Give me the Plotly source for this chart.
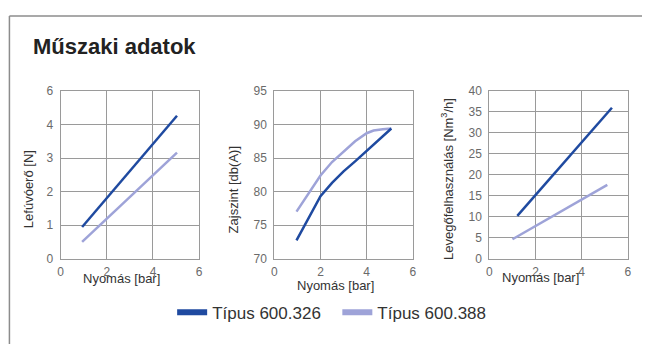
import plotly.graph_objects as go

W, H = 646, 351

# ---------------- data ----------------
series_names = ["Típus 600.326", "Típus 600.388"]
dark_color = "#1f4aa0"
light_color = "#9ea3d8"

# Chart 1: Lefúvóerő [N]
c1_x_dark = [0.93, 5.04]
c1_y_dark = [0.94, 4.26]
c1_x_light = [0.93, 5.04]
c1_y_light = [0.50, 3.16]
c1_ytickvals = [0, 1, 2, 3, 4, 5]
c1_yticktext = ["0", "1", "2", "3", "4", "6"]

# Chart 2: Zajszint [db(A)]
c2_x_dark = [0.96, 1.5, 2.0, 2.5, 3.0, 3.5, 4.0, 4.5, 5.07]
c2_y_dark = [72.7, 76.1, 79.3, 81.3, 83.0, 84.5, 86.1, 87.6, 89.4]
c2_x_light = [0.96, 1.5, 2.0, 2.5, 3.0, 3.5, 4.0, 4.3, 4.7, 5.07]
c2_y_light = [77.0, 79.8, 82.4, 84.4, 86.0, 87.5, 88.7, 89.1, 89.3, 89.4]
c2_ytickvals = [70, 75, 80, 85, 90, 95]

# Chart 3: Levegőfelhasználás [Nm3/h]
c3_x_dark = [1.21, 5.31]
c3_y_dark = [10.2, 36.0]
c3_x_light = [1.0, 5.11]
c3_y_light = [4.6, 17.6]
c3_ytickvals = [0, 5, 10, 15, 20, 25, 30, 35, 40]

xtickvals = [0, 2, 4, 6]

title_text = "Műszaki adatok"
x_title = "Nyomás [bar]"
y_titles = ["Lefúvóerő [N]", "Zajszint [db(A)]", "Levegőfelhasználás [Nm<sup>3</sup>/h]"]


def px_x(p):
    return p / W


def px_y(p):
    return 1 - p / H


FONT = "Liberation Sans, Arial, sans-serif"

fig = go.Figure()

line_w = 2.5
charts = [
    (c1_x_dark, c1_y_dark, c1_x_light, c1_y_light),
    (c2_x_dark, c2_y_dark, c2_x_light, c2_y_light),
    (c3_x_dark, c3_y_dark, c3_x_light, c3_y_light),
]
for i, (xd, yd, xl, yl) in enumerate(charts):
    suffix = "" if i == 0 else str(i + 1)
    fig.add_trace(go.Scatter(x=xl, y=yl, mode="lines", line=dict(color=light_color, width=line_w),
                             xaxis="x" + suffix, yaxis="y" + suffix, showlegend=False, hoverinfo="skip"))
    fig.add_trace(go.Scatter(x=xd, y=yd, mode="lines", line=dict(color=dark_color, width=line_w),
                             xaxis="x" + suffix, yaxis="y" + suffix, showlegend=False, hoverinfo="skip"))

# legend entries
fig.add_trace(go.Scatter(x=[None], y=[None], mode="lines", name=series_names[0],
                         line=dict(color=dark_color, width=6), legend="legend"))
fig.add_trace(go.Scatter(x=[None], y=[None], mode="lines", name=series_names[1],
                         line=dict(color=light_color, width=6), legend="legend2"))

grid = "#9a9a9a"
tickfont = dict(family=FONT, size=12, color="#6a6a6a")


def xaxis(dom, anchor):
    return dict(domain=dom, anchor=anchor, range=[0, 6], tickvals=xtickvals, showgrid=True,
                gridcolor=grid, gridwidth=1, showline=True, linecolor=grid, linewidth=1, mirror=True,
                zeroline=False, ticks="", tickfont=tickfont, ticklabelstandoff=2, fixedrange=True)


def yaxis(dom, anchor, rng, tv, tt=None):
    d = dict(domain=dom, anchor=anchor, range=rng, tickvals=tv, showgrid=True,
             gridcolor=grid, gridwidth=1, showline=True, linecolor=grid, linewidth=1, mirror=True,
             zeroline=False, ticks="", tickfont=tickfont, ticklabelstandoff=4, fixedrange=True)
    if tt is not None:
        d["ticktext"] = tt
    return d


ydom = [px_y(262), px_y(87.5)]
fig.update_layout(
    width=W, height=H, margin=dict(l=0, r=0, t=0, b=0),
    paper_bgcolor="white", plot_bgcolor="white",
    xaxis=xaxis([px_x(58.3), px_x(198.3)], "y"),
    yaxis=yaxis(ydom, "x", [0, 5], c1_ytickvals, c1_yticktext),
    xaxis2=xaxis([px_x(274.3), px_x(414.3)], "y2"),
    yaxis2=yaxis(ydom, "x2", [70, 95], c2_ytickvals),
    xaxis3=xaxis([px_x(491.7), px_x(631.7)], "y3"),
    yaxis3=yaxis(ydom, "x3", [0, 40], c3_ytickvals),
    legend=dict(orientation="h", x=px_x(171), y=px_y(318.5), xanchor="left", yanchor="middle",
                font=dict(family=FONT, size=17, color="#333333"), bgcolor="rgba(0,0,0,0)",
                borderwidth=0, itemclick=False, itemdoubleclick=False),
    legend2=dict(orientation="h", x=px_x(338), y=px_y(318.5), xanchor="left", yanchor="middle",
                 font=dict(family=FONT, size=17, color="#333333"), bgcolor="rgba(0,0,0,0)",
                 borderwidth=0, itemclick=False, itemdoubleclick=False),
    showlegend=True,
)

annotations = [
    dict(text="<b>" + title_text + "</b>", x=px_x(28.5), y=px_y(41), xanchor="left", yanchor="middle",
         font=dict(family=FONT, size=22, color="#222222")),
]
ytitle_pos = [(26, 190), (232.5, 190), (449, 179)]
for t, (ax, ay) in zip(y_titles, ytitle_pos):
    annotations.append(dict(text=t, x=px_x(ax), y=px_y(ay), xanchor="center", yanchor="middle",
                            textangle=-90, font=dict(family=FONT, size=13, color="#333333")))
xtitle_pos = [(120, 282.5), (336.5, 290), (543, 281.5)]
for (ax, ay) in xtitle_pos:
    annotations.append(dict(text=x_title, x=px_x(ax), y=px_y(ay), xanchor="center", yanchor="middle",
                            font=dict(family=FONT, size=13, color="#333333")))
for a in annotations:
    a.update(xref="paper", yref="paper", showarrow=False)
fig.update_layout(annotations=annotations)

fig.update_layout(shapes=[
    dict(type="line", xref="paper", yref="paper", x0=px_x(6.5), x1=1, y0=px_y(9.5), y1=px_y(9.5),
         line=dict(color="#8c8c8c", width=1.5)),
    dict(type="line", xref="paper", yref="paper", x0=px_x(6.5), x1=px_x(6.5), y0=px_y(9.5), y1=0,
         line=dict(color="#8c8c8c", width=1.5)),
])

fig.write_html("out.html", config={"displayModeBar": False, "staticPlot": False},
               post_script="document.body.style.margin='0';document.body.style.overflow='hidden';")
